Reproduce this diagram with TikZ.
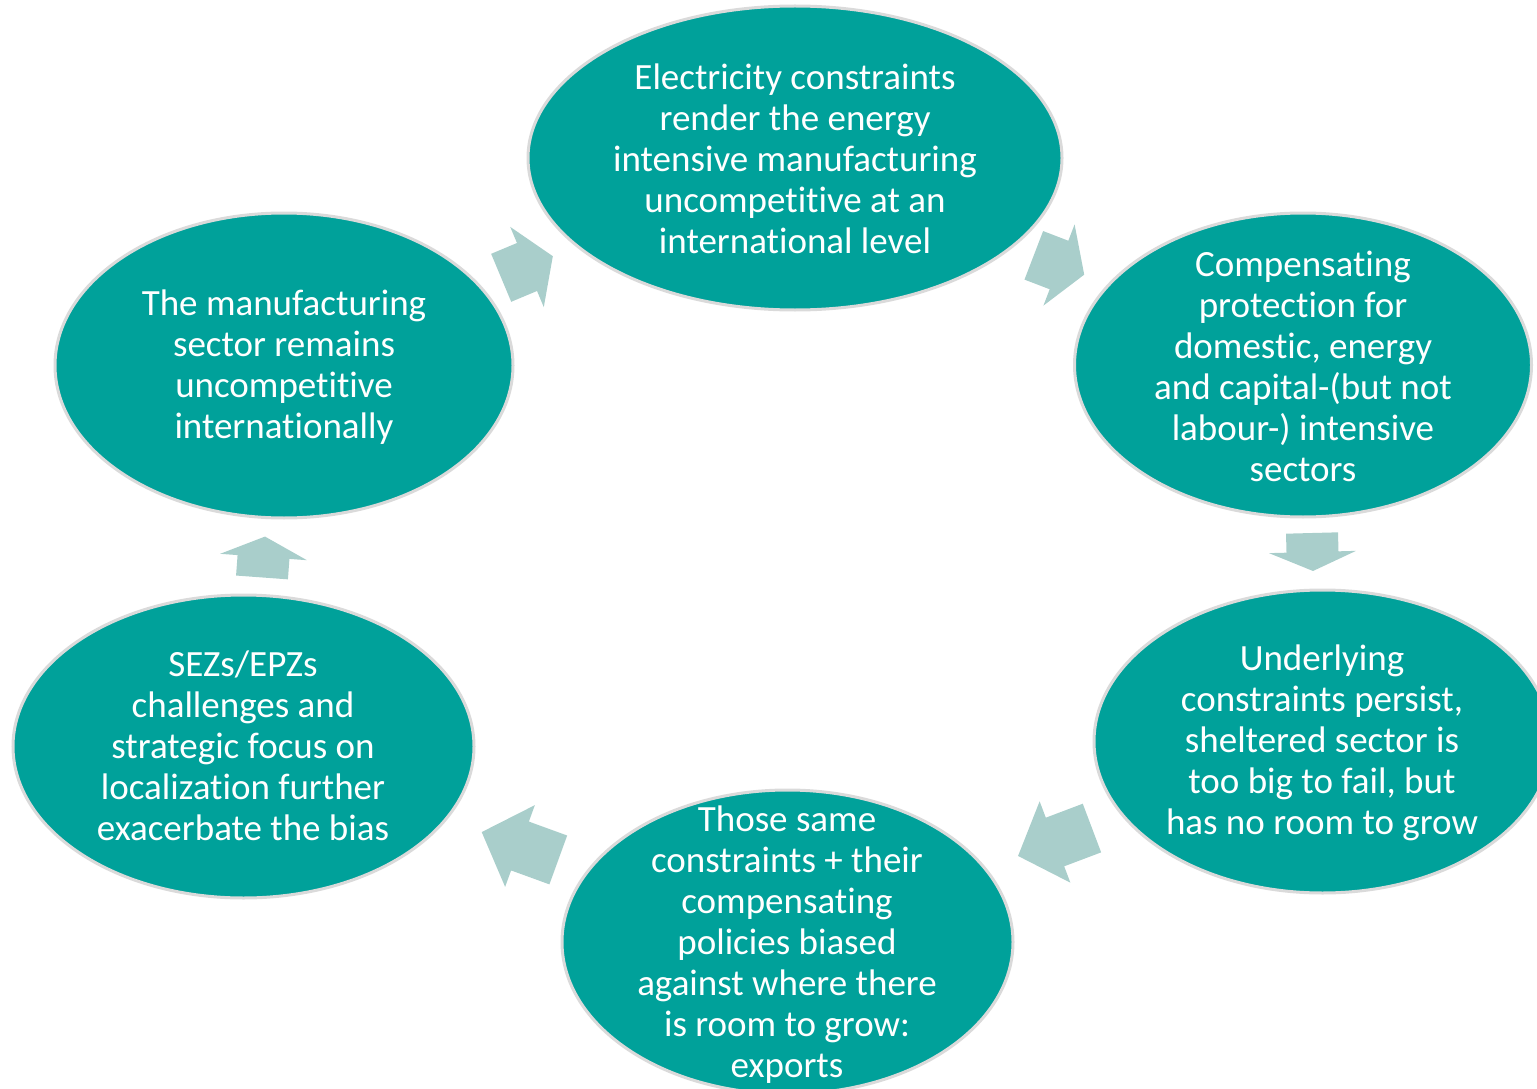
\documentclass[tikz,border=0pt]{standalone}
\usepackage{fontspec}
\setmainfont{Carlito}[RawFeature={-liga;-clig;-calt;-dlig}]
\usetikzlibrary{shapes.geometric}
\definecolor{bubble}{RGB}{0,161,154}
\definecolor{bubbleedge}{RGB}{218,218,218}
\definecolor{flow}{RGB}{169,206,203}
\tikzset{
  bubble/.style={ellipse, fill=bubble, draw=bubbleedge, line width=3pt, inner sep=0pt},
  label/.style={text=white, align=center, font=\fontsize{37}{41}\selectfont, inner sep=0pt},
  flowfill/.style={fill=flow}
}
% block arrow: name, x, y, angle, length (head takes half the length)
\newcommand\cyclearrow[5]{%
  \coordinate (#1) at (#2,#3);
  \fill[flowfill, shift={(#1)}, rotate=#4]
    ({-#5/2},-26) -- (0,-26) -- (0,-43.5) -- ({#5/2},0) -- (0,43.5) -- (0,26) -- ({-#5/2},26) -- cycle;
}
\begin{document}
\begin{tikzpicture}[x=1pt,y=-1pt]
\useasboundingbox (0,0) rectangle (1537,1089);
\clip (0,0) rectangle (1537,1089);

% bubbles
\node[bubble, minimum width=534pt, minimum height=304pt] (e1) at (795,158) {};
\node[bubble, minimum width=457pt, minimum height=304pt] (e2) at (1303,365) {};
\node[bubble, minimum width=457pt, minimum height=303pt] (e3) at (1322.5,741.5) {};
\node[bubble, minimum width=451pt, minimum height=304pt] (e4) at (787.5,942) {};
\node[bubble, minimum width=461pt, minimum height=303pt] (e5) at (243.5,746.5) {};
\node[bubble, minimum width=458pt, minimum height=305pt] (e6) at (284,365.5) {};

% arrows between bubbles
\cyclearrow{a1}{527}{267}{22.7}{56}
\cyclearrow{a2}{1059}{265}{-21}{54}
\cyclearrow{a3}{1312.5}{552}{-88.5}{38}
\cyclearrow{a4}{1055}{842}{-159.3}{79}
\cyclearrow{a5}{520}{846}{160}{81.5}
\cyclearrow{a6}{263.5}{557}{85.8}{41}

% texts
\node[label] (t1) at (795,159) {Electricity constraints\\render the energy\\intensive manufacturing\\uncompetitive at an\\international level};
\node[label] (t2) at (1303,366) {Compensating\\protection for\\domestic, energy\\and capital-(but not\\labour-) intensive\\sectors};
\node[label] (t3) at (1322,743) {Underlying\\constraints persist,\\sheltered sector is\\too big to fail, but\\has no room to grow};
\node[label] (t4) at (787,945) {Those same\\constraints + their\\compensating\\policies biased\\against where there\\is room to grow:\\exports};
\node[label] (t5) at (243,746) {SEZs/EPZs\\challenges and\\strategic focus on\\localization further\\exacerbate the bias};
\node[label] (t6) at (284,367) {The manufacturing\\sector remains\\uncompetitive\\internationally};
\end{tikzpicture}
\end{document}
